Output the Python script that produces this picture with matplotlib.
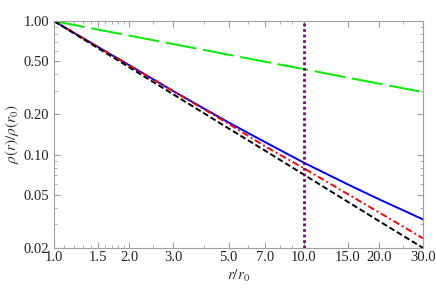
import numpy as np
import matplotlib
matplotlib.use('Agg')
import matplotlib.pyplot as plt
from matplotlib.ticker import FixedLocator, FixedFormatter, NullFormatter

plt.rcParams['font.family'] = ['Liberation Serif', 'DejaVu Serif']
plt.rcParams['mathtext.fontset'] = 'stix'

# values (log-log)
r = [1.0, 1.5, 2.0, 3.0, 5.0, 7.0, 10.0, 15.0, 20.0, 30.0]
green = [1.0, 0.864, 0.779, 0.673, 0.560, 0.496, 0.437, 0.377, 0.340, 0.294]
blue = [1.0, 0.640, 0.467, 0.299, 0.174, 0.124, 0.087, 0.0598, 0.0463, 0.0327]
red = [1.0, 0.640, 0.467, 0.299, 0.170, 0.1153, 0.079, 0.0506, 0.0369, 0.0236]
black = [1.0, 0.627, 0.451, 0.283, 0.157, 0.107, 0.0708, 0.0443, 0.0318, 0.0200]
r_mark = 10.0

xticks = [1.0, 1.5, 2.0, 3.0, 5.0, 7.0, 10.0, 15.0, 20.0, 30.0]
xticklabels = ['1.0', '1.5', '2.0', '3.0', '5.0', '7.0', '10.0', '15.0', '20.0', '30.0']
xminor = [1.1, 1.2, 1.3, 1.4, 1.6, 1.7, 1.8, 1.9, 2.5, 4.0, 6.0, 8.0, 9.0, 25.0]
yticks = [1.0, 0.5, 0.2, 0.1, 0.05, 0.02]
yticklabels = ['1.00', '0.50', '0.20', '0.10', '0.05', '0.02']
yminor = [0.9, 0.8, 0.7, 0.6, 0.4, 0.3, 0.09, 0.08, 0.07, 0.06, 0.04, 0.03]

fig = plt.figure(figsize=(4.36, 2.93), dpi=100)
ax = fig.add_axes([0.124, 0.154, 0.846, 0.774])

ax.plot(r, green, color='#00ee00', lw=1.4, dashes=(16, 3.5))
ax.plot(r, blue, color='#0000ff', lw=1.4)
ax.plot(r, red, color='#ff0000', lw=1.4, dashes=(3.5, 1.5, 1, 1.5))
ax.plot(r, black, color='black', lw=1.4, dashes=(3, 1.5))
ax.axvline(r_mark, color='#800080', lw=2.0, dashes=(1, 1))

ax.set_xscale('log')
ax.set_yscale('log')
ax.set_xlim(1, 30)
ax.set_ylim(0.02, 1.0)

ax.xaxis.set_major_locator(FixedLocator(xticks))
ax.xaxis.set_major_formatter(FixedFormatter(xticklabels))
ax.xaxis.set_minor_locator(FixedLocator(xminor))
ax.xaxis.set_minor_formatter(NullFormatter())
ax.yaxis.set_major_locator(FixedLocator(yticks))
ax.yaxis.set_major_formatter(FixedFormatter(yticklabels))
ax.yaxis.set_minor_locator(FixedLocator(yminor))
ax.yaxis.set_minor_formatter(NullFormatter())

for s in ax.spines.values():
    s.set_color('#a0a0a0')
ax.tick_params(which='both', direction='in', top=True, right=True, color='#a0a0a0',
               labelsize=10.5, labelcolor='#222222')
ax.tick_params(which='major', length=4)
ax.tick_params(which='minor', length=2)
ax.tick_params(axis='x', pad=2)

ax.set_xlabel(r'$r/r_0$', fontsize=11, labelpad=3, color='#333333')
ax.set_ylabel(r'$\rho(r)/\rho(r_0)$', fontsize=11, labelpad=2, color='#333333')

fig.savefig('out.png', dpi=100)
